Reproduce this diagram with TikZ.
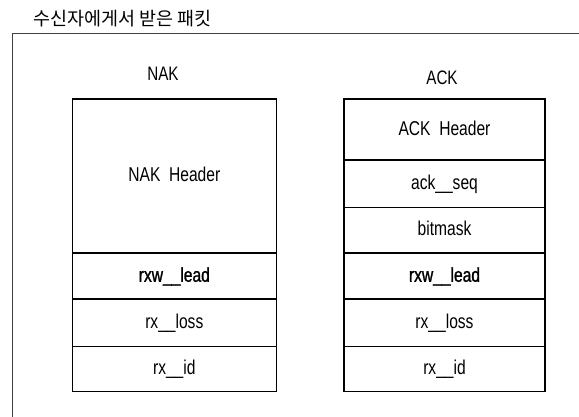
\documentclass[tikz,border=0pt]{standalone}
\usepackage{fontspec}
\setmainfont[FakeStretch=0.78]{Liberation Sans}
\newfontfamily\semibold[FakeStretch=0.78,FakeBold=1.2]{Liberation Sans}
\newfontfamily\krfont{Noto Sans CJK KR}
\begin{document}
\begin{tikzpicture}[x=1pt,y=-1pt,
  cell/.style={draw, line width=1.1pt, inner sep=0pt, text height=14.5pt, text depth=3pt,
    font=\fontsize{20}{22}\selectfont},
  nakcell/.style={cell, minimum width=204pt},
  ackcell/.style={cell, minimum width=201pt},
  lbl/.style={inner sep=0pt, anchor=base, font=\fontsize{19.5}{22}\selectfont},
  frame/.style={draw=black!75, line width=0.8pt}]
\useasboundingbox (0,0) rectangle (579,417);
% title and frame
\node[inner sep=0pt, font=\krfont\fontsize{18.5}{20}\selectfont] (title) at (122.5,18.5) {수신자에게서 받은 패킷};
\coordinate (fl) at (12.7,33.3);
\coordinate (fr) at (579,33.3);
\coordinate (fb) at (12.7,417);
\draw[frame] (fr) -- (fl) -- (fb);
% labels
\node[lbl] (naklbl) at (163,81) {NAK};
\node[lbl] (acklbl) at (442,85) {ACK};
% NAK stack
\node[nakcell, minimum height=154pt] (nakh) at (174.3,176) {NAK\ \ Header};
\node[nakcell, minimum height=46pt] (nakl) at (174.3,276) {\semibold rxw\_\_lead};
\node[nakcell, minimum height=47.5pt] (naklo) at (174.3,322.75) {rx\_\_loss};
\node[nakcell, minimum height=45.2pt] (naki) at (174.3,369.1) {rx\_\_id};
% ACK stack
\node[ackcell, minimum height=61pt] (ackh) at (444.5,129.5) {ACK\ \ Header};
\node[ackcell, minimum height=47.5pt] (acks) at (444.5,183.75) {ack\_\_seq};
\node[ackcell, minimum height=45.5pt] (ackb) at (444.5,230.25) {bitmask};
\node[ackcell, minimum height=46pt] (ackl) at (444.5,276) {\semibold rxw\_\_lead};
\node[ackcell, minimum height=47.5pt] (acklo) at (444.5,322.75) {rx\_\_loss};
\node[ackcell, minimum height=45.2pt] (acki) at (444.5,369.1) {rx\_\_id};
\end{tikzpicture}
\end{document}
